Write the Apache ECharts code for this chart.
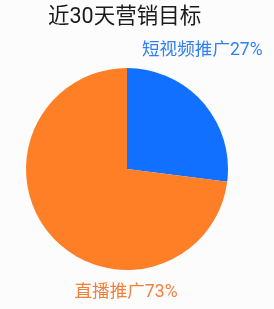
<!DOCTYPE html>
<html><head><meta charset="utf-8">
<script src="https://cdn.jsdelivr.net/npm/echarts@6/dist/echarts.min.js"></script>
<style>html,body{margin:0;padding:0;background:#fcfcfd;}#c{width:274px;height:309px;}</style>
</head><body><div id="c"></div>
<script>
var titleText = '近30天营销目标';
var categories = ['短视频推广', '直播推广'];
var values = [27, 73];
var colors = ['#1170ff', '#ff7f27'];
var labelColors = ['#2f7ff5', '#f47f3b'];

var chart = echarts.init(document.getElementById('c'));
var labelPos = [
  {x: 142, y: 51, align: 'left'},
  {x: 126, y: 293, align: 'center'}
];
chart.setOption({
  backgroundColor: '#fcfcfd',
  animation: false,
  title: {
    text: titleText, left: 43, top: 2,
    textStyle: {fontSize: 21.5, fontWeight: 'normal', color: '#1a1a1a', fontFamily: 'Roboto, "Noto Sans CJK SC"'}
  },
  series: [{
    type: 'pie',
    center: [127, 169],
    radius: [0, 101],
    startAngle: 90,
    clockwise: true,
    avoidLabelOverlap: false,
    label: {
      show: true, position: 'outside', formatter: '{b}{d}%',
      fontSize: 17.6, fontFamily: 'Roboto, "Noto Sans CJK SC"', overflow: 'none'
    },
    labelLine: {show: false},
    labelLayout: function (p) {
      var l = labelPos[p.dataIndex];
      return {x: l.x, y: l.y, align: l.align, verticalAlign: 'middle', hideOverlap: false};
    },
    data: categories.map(function (c, i) {
      return {
        name: c, value: values[i],
        itemStyle: {color: colors[i]},
        label: {color: labelColors[i]}
      };
    })
  }]
});
</script></body></html>
